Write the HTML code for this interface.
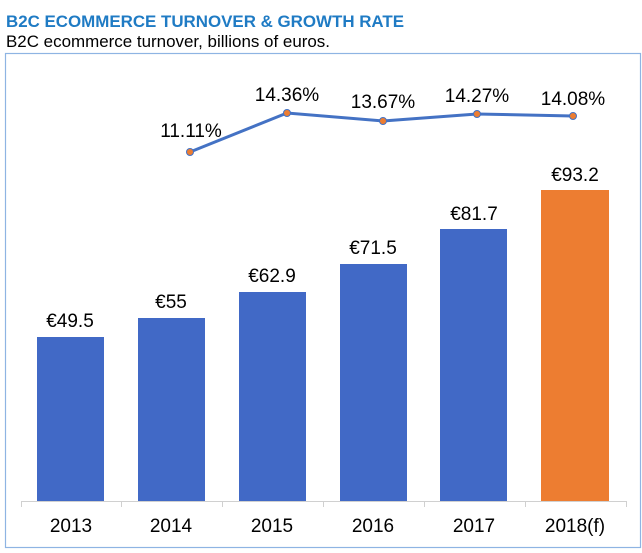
<!DOCTYPE html>
<html><head><meta charset="utf-8"><style>
html,body{margin:0;padding:0;background:#fff;}
svg{display:block;}
text{font-family:"Liberation Sans",Arial,sans-serif;}
</style></head><body>
<svg width="642" height="553" viewBox="0 0 642 553" xmlns="http://www.w3.org/2000/svg">
<text x="6" y="27" font-size="16.8" font-weight="bold" fill="#1f7bc4" textLength="398" lengthAdjust="spacingAndGlyphs">B2C ECOMMERCE TURNOVER &amp; GROWTH RATE</text>
<text x="6" y="47" font-size="16.8" fill="#000" textLength="324" lengthAdjust="spacingAndGlyphs">B2C ecommerce turnover, billions of euros.</text>
<rect x="5.5" y="53.5" width="635" height="494" fill="#fff" stroke="#8eb4e3" stroke-width="1.2"/>
<g fill="#4169c6">
<rect x="37" y="337" width="67" height="164"/>
<rect x="138" y="318" width="67" height="183"/>
<rect x="239" y="292" width="67" height="209"/>
<rect x="340" y="264" width="67" height="237"/>
<rect x="440" y="229" width="67" height="272"/>
</g>
<rect x="541" y="190" width="68" height="311" fill="#ed7d31"/>
<g stroke="#d0d0d0" stroke-width="1">
<line x1="21" y1="501.5" x2="626" y2="501.5"/>
<line x1="21.5" y1="501" x2="21.5" y2="507"/><line x1="121.5" y1="501" x2="121.5" y2="507"/>
<line x1="222.5" y1="501" x2="222.5" y2="507"/><line x1="323.5" y1="501" x2="323.5" y2="507"/>
<line x1="424.5" y1="501" x2="424.5" y2="507"/><line x1="525.5" y1="501" x2="525.5" y2="507"/>
<line x1="626.5" y1="501" x2="626.5" y2="507"/>
</g>
<g font-size="19" text-anchor="middle" fill="#000">
<text x="71" y="532">2013</text><text x="171" y="532">2014</text><text x="272" y="532">2015</text>
<text x="373" y="532">2016</text><text x="474" y="532">2017</text><text x="575" y="532">2018(f)</text>
<text x="70" y="327">€49.5</text><text x="171" y="308">€55</text><text x="272" y="282">€62.9</text>
<text x="373" y="254">€71.5</text><text x="474" y="220">€81.7</text><text x="575" y="181">€93.2</text>
<text x="191" y="137">11.11%</text><text x="287" y="101">14.36%</text><text x="383" y="108">13.67%</text>
<text x="477" y="102">14.27%</text><text x="573" y="105">14.08%</text>
</g>
<polyline points="190,152 287,113 383,121 477,114 573,116" fill="none" stroke="#4472c4" stroke-width="3"/>
<g fill="#ed7d31" stroke="#4472c4" stroke-width="1">
<circle cx="190" cy="152" r="3.5"/><circle cx="287" cy="113" r="3.5"/><circle cx="383" cy="121" r="3.5"/>
<circle cx="477" cy="114" r="3.5"/><circle cx="573" cy="116" r="3.5"/>
</g>
</svg>
</body></html>
